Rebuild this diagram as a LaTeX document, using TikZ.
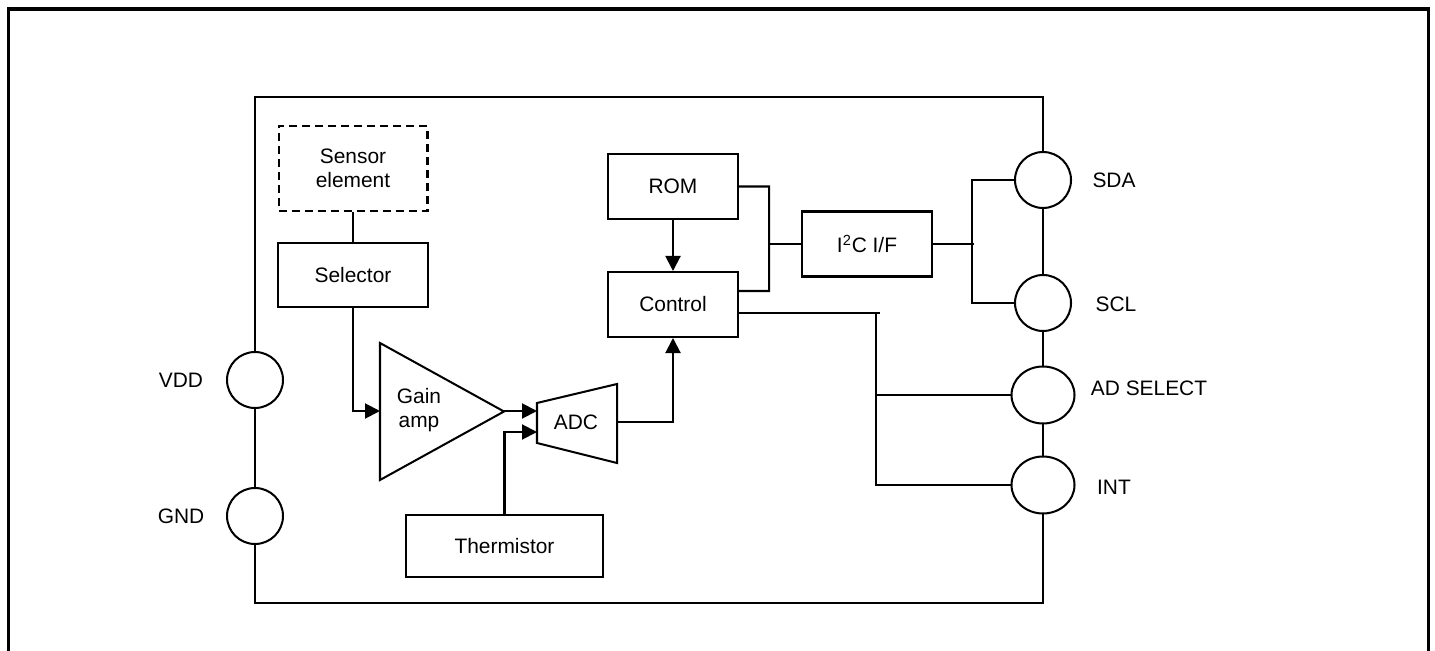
\documentclass[tikz,border=0pt]{standalone}
\usepackage{fontspec}
\setmainfont{Liberation Sans}
\usetikzlibrary{arrows.meta,positioning,shapes.geometric,calc}

\begin{document}
\begin{tikzpicture}[x=0.02cm,y=-0.02cm,line width=1.15pt,
  font=\fontsize{11.9}{13.6}\selectfont,
  blk/.style={draw,rectangle,minimum width=2.6cm,minimum height=1.3cm,align=center,inner sep=1pt},
  pin/.style={draw,circle,fill=white,minimum size=1.12cm,inner sep=0pt},
  pinel/.style={draw,ellipse,fill=white,minimum width=1.26cm,minimum height=1.14cm,inner sep=0pt},
  lbl/.style={inner sep=0pt},
  arr/.style={-{Triangle[length=0.3cm,width=0.3cm]}}]
  \useasboundingbox (0,0) rectangle (1435,651);
  \draw[line width=1.8pt] (8.5,9) rectangle (1428.5,690);
  % chip outline
  \draw (255,97) rectangle (1043,603);

  \node[blk,dashed,dash pattern=on 4.6pt off 2.8pt,minimum width=2.98cm,minimum height=1.7cm]
    (sensor) at (353,168.5) {Sensor\\element};
  \node[blk,minimum width=3cm,minimum height=1.28cm] (sel) at (353,275) {Selector};
  \node[blk] (rom) at (673,186.5) {ROM};
  \node[blk] (ctrl) at (673,304.5) {Control};
  \node[blk] (i2c) at (867,244) {I\textsuperscript{2}C I/F};
  \node[blk,minimum width=3.94cm,minimum height=1.24cm] (therm) at (504.5,546) {Thermistor};

  % gain amp and ADC
  \draw (380,343) -- (504,411.5) -- (380,480) -- cycle;
  \node[lbl,align=center] (amp) at (419,410) {Gain\\amp};
  \coordinate (ampin) at (380,411);
  \coordinate (ampout) at (504,411);
  \draw (537,403) -- (617,384) -- (617,463) -- (537,443) -- cycle;
  \node[lbl] (adc) at (576,422) {ADC};
  \coordinate (adcin) at (537,411);
  \coordinate (adctemp) at (537,432);
  \coordinate (adcout) at (617,422);

  \draw (sensor.south) -- (sel.north);
  \draw[arr] (sel.south) |- (ampin);
  \draw[arr] (ampout) -- (adcin);
  \draw[arr] (therm.north) |- (adctemp);
  \draw[arr] (adcout) -| (ctrl.south);
  \draw[arr] (rom.south) -- (ctrl.north);

  \draw (rom.east) -| (769,291) -- ([yshift=0.27cm]ctrl.east);
  \draw (i2c.west) -- ++(-33,0);

  % pins
  \node[pin] (vdd) at (255,380) {};
  \node[pin] (gnd) at (255,516) {};
  \node[pin] (sda) at (1043,180) {};
  \node[pin] (scl) at (1043,303) {};
  \node[pinel] (adsel) at (1043,395) {};
  \node[pinel] (int) at (1043,485) {};

  \draw (i2c.east) -- ++(41,0);
  \draw (sda.west) -- ++(-42,0) |- (scl.west);

  \coordinate (ctlbus) at (876,313);
  \draw ([yshift=-0.17cm]ctrl.east) -- ++(141,0);
  \draw (ctlbus) |- (int.west);
  \draw (ctlbus |- adsel.west) -- (adsel.west);

  \node[lbl] (vddlbl) at (181,380) {VDD};
  \node[lbl] (gndlbl) at (181,516) {GND};
  \node[lbl] (sdalbl) at (1114,180) {SDA};
  \node[lbl] (scllbl) at (1116,304) {SCL};
  \node[lbl] (adsellbl) at (1149,388) {AD SELECT};
  \node[lbl] (intlbl) at (1114,487) {INT};
\end{tikzpicture}
\end{document}
